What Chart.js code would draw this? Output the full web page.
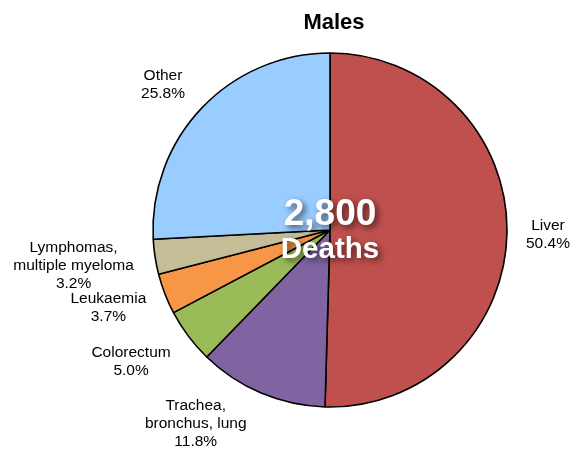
<!DOCTYPE html>
<html>
<head>
<meta charset="utf-8">
<script src="https://cdn.jsdelivr.net/npm/chart.js@4/dist/chart.umd.min.js"></script>
<style>
html,body{margin:0;padding:0;background:#fff;}
#wrap{width:572px;height:451px;position:relative;}
</style>
</head>
<body>
<div id="wrap"><canvas id="c" width="572" height="451"></canvas></div>
<script>
const categories = [["Liver"], ["Trachea,", "bronchus, lung"], ["Colorectum"], ["Leukaemia"], ["Lymphomas,", "multiple myeloma"], ["Other"]];
const shares = [50.4, 11.8, 5.0, 3.7, 3.2, 25.8];
const shareLabels = ["50.4%", "11.8%", "5.0%", "3.7%", "3.2%", "25.8%"];
const colours = ["#c0504d", "#8064a2", "#9bbb59", "#f79646", "#c4bd97", "#99ccff"];
const titleText = "Males";
const centerLines = ["2,800", "Deaths"];

const FONT = "'Liberation Sans', Arial, Helvetica, sans-serif";

const labelPlugin = {
  id: 'outsideLabels',
  afterDatasetsDraw(chart, args, opts) {
    const ctx = chart.ctx;
    const meta = chart.getDatasetMeta(0);
    const fs = opts.fontSize, lh = opts.lineHeight, gap = opts.gap;
    ctx.save();
    ctx.font = fs + "px " + FONT;
    ctx.fillStyle = "#000";
    ctx.textAlign = "center";
    ctx.textBaseline = "alphabetic";
    meta.data.forEach((arc, i) => {
      const p = arc.getProps(['x','y','startAngle','endAngle','outerRadius'], true);
      const mid = (p.startAngle + p.endAngle) / 2;
      const lines = categories[i].concat([shareLabels[i]]);
      let w = 0;
      lines.forEach(t => { w = Math.max(w, ctx.measureText(t).width); });
      const h = lh * lines.length;
      const cx = Math.cos(mid), cy = Math.sin(mid);
      const ax = p.x + cx * (p.outerRadius + gap);
      const ay = p.y + cy * (p.outerRadius + gap);
      const n = opts.nudge[i] || [0, 0];
      const bx = ax + cx * w / 2 + n[0];
      const by = ay + cy * h / 2 + n[1];
      lines.forEach((t, k) => {
        const lc = by + (k - (lines.length - 1) / 2) * lh;
        ctx.fillText(t, bx, lc + fs * 0.358);
      });
    });
    ctx.restore();
  }
};

const centerPlugin = {
  id: 'centerText',
  afterDatasetsDraw(chart) {
    const ctx = chart.ctx;
    const arc = chart.getDatasetMeta(0).data[0];
    const x = arc.x, y = arc.y;
    ctx.save();
    ctx.textAlign = "center";
    ctx.textBaseline = "alphabetic";
    ctx.fillStyle = "#ffffff";
    ctx.shadowColor = "rgba(0,0,0,0.6)";
    ctx.shadowBlur = 6;
    ctx.shadowOffsetX = 3;
    ctx.shadowOffsetY = 3;
    ctx.font = "bold 37px " + FONT;
    ctx.fillText(centerLines[0], x, y - 5);
    ctx.font = "bold 29.5px " + FONT;
    ctx.fillText(centerLines[1], x, y + 28);
    ctx.restore();
    // title
    ctx.save();
    ctx.textAlign = "center";
    ctx.textBaseline = "alphabetic";
    ctx.fillStyle = "#000";
    ctx.font = "bold 22px " + FONT;
    ctx.fillText(titleText, x + 4, 29);
    ctx.restore();
  }
};

new Chart(document.getElementById('c'), {
  type: 'pie',
  data: {
    labels: categories.map(c => c.join(' ')),
    datasets: [{
      data: shares,
      backgroundColor: colours,
      borderColor: '#000000',
      borderWidth: 1.6,
      radius: 177
    }]
  },
  options: {
    responsive: false,
    devicePixelRatio: 1,
    animation: false,
    events: [],
    layout: { padding: { left: 100, right: 12, top: 40, bottom: 31 } },
    plugins: {
      legend: { display: false },
      tooltip: { enabled: false },
      title: { display: false },
      outsideLabels: {
        fontSize: 15.5,
        lineHeight: 18,
        gap: 12,
        nudge: [[7, 1], [-41, -7], [-16, 6], [-10, 2], [-10, 2], [-14, -4.5]]
      }
    }
  },
  plugins: [labelPlugin, centerPlugin]
});
</script>
</body>
</html>
